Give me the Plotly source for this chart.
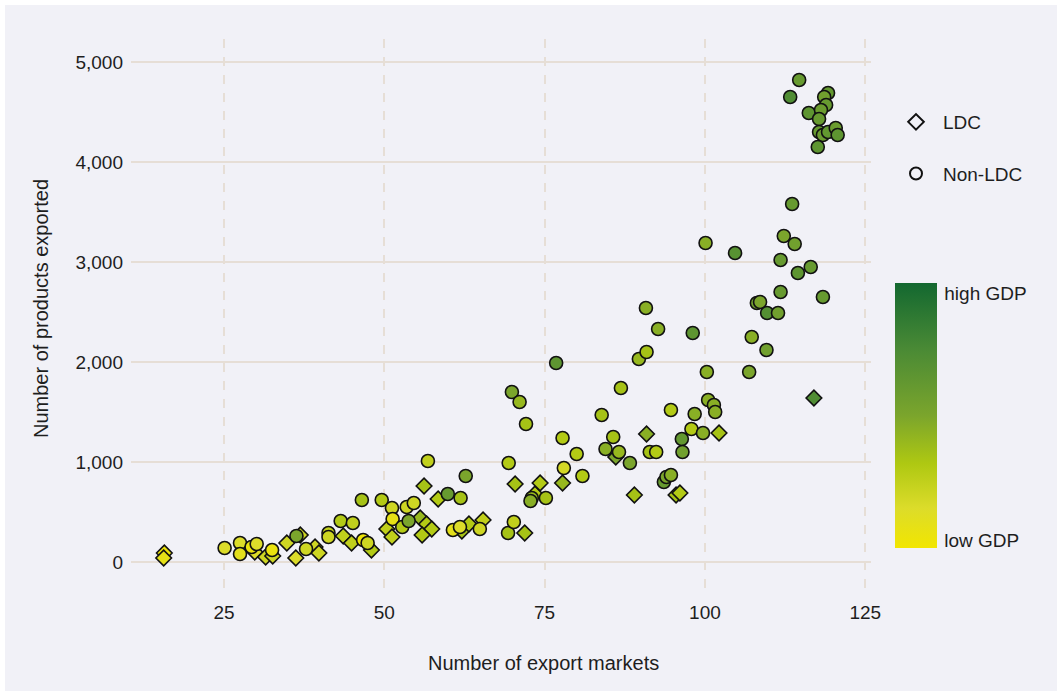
import plotly.graph_objects as go

# Least developed countries (diamonds)
ldc_markets = [15.7, 15.6, 29.8, 31.5, 32.6, 34.8, 36.9, 36.2, 39.2, 39.8,
               43.6, 44.9, 48.0, 50.4, 51.2, 55.6, 56.6, 57.4, 55.9, 56.2,
               58.4, 62.1, 63.2, 65.4, 70.4, 71.9, 73.5, 74.3, 77.8, 86.1,
               89.0, 90.9, 95.5, 96.1, 102.2, 117.0]
ldc_products = [90, 40, 100, 50, 60, 190, 270, 40, 150, 90,
                260, 190, 120, 330, 250, 440, 380, 330, 270, 760,
                630, 310, 380, 420, 780, 290, 680, 790, 790, 1050,
                670, 1280, 670, 690, 1290, 1640]
ldc_gdp = [0.04, 0.08, 0.15, 0.2, 0.2, 0.2, 0.2, 0.15, 0.2, 0.2,
           0.25, 0.25, 0.3, 0.25, 0.25, 0.4, 0.3, 0.3, 0.3, 0.35,
           0.3, 0.35, 0.3, 0.25, 0.35, 0.35, 0.3, 0.3, 0.4, 0.5,
           0.35, 0.45, 0.35, 0.3, 0.35, 0.72]

# Other countries (circles)
non_markets = [25.1, 27.5, 27.5, 29.3, 30.1, 32.5, 36.3, 37.8, 41.3, 41.3,
               43.2, 45.1, 46.5, 46.7, 47.4, 49.6, 51.2, 51.3, 52.8, 53.5,
               53.8, 54.6, 56.8, 59.9, 60.7, 61.8, 61.9, 62.7, 64.9, 69.3,
               69.4, 69.9, 70.2, 71.1, 72.1, 73.0, 72.8, 75.2, 76.8, 77.8,
               78.0, 80.0, 80.9, 83.9, 84.5, 85.7, 86.6, 86.9, 88.3, 89.7,
               90.8, 90.9, 91.4, 92.4, 92.7, 93.6, 94.0, 94.7, 94.7, 96.4,
               96.5, 97.9, 98.1, 98.4, 99.7, 100.1, 100.3, 100.5, 101.4, 101.6,
               104.7, 106.9, 107.3, 108.1, 108.6, 109.6, 109.7, 111.4, 111.8, 111.8,
               112.3, 113.6, 114.0, 114.5, 116.5, 118.4,
               114.7, 113.3, 119.2, 118.6, 118.9, 116.2, 118.1, 117.8, 117.8, 118.4,
               119.2, 120.4, 120.7, 117.6]
non_products = [140, 190, 80, 150, 180, 120, 260, 130, 290, 250,
                410, 390, 620, 220, 190, 620, 540, 430, 350, 550,
                410, 590, 1010, 680, 320, 350, 640, 860, 330, 290,
                990, 1700, 400, 1600, 1380, 640, 610, 640, 1990, 1240,
                940, 1080, 860, 1470, 1130, 1250, 1100, 1740, 990, 2030,
                2540, 2100, 1100, 1100, 2330, 800, 850, 870, 1520, 1230,
                1100, 1330, 2290, 1480, 1290, 3190, 1900, 1620, 1570, 1500,
                3090, 1900, 2250, 2590, 2600, 2120, 2490, 2490, 2700, 3020,
                3260, 3580, 3180, 2890, 2950, 2650,
                4820, 4650, 4690, 4650, 4570, 4490, 4520, 4430, 4300, 4270,
                4300, 4340, 4270, 4150]
non_gdp = [0.15, 0.15, 0.1, 0.05, 0.15, 0.05, 0.5, 0.2, 0.25, 0.2,
           0.3, 0.25, 0.35, 0.03, 0.2, 0.3, 0.2, 0.08, 0.3, 0.2,
           0.5, 0.2, 0.25, 0.6, 0.1, 0.15, 0.35, 0.5, 0.2, 0.35,
           0.3, 0.5, 0.25, 0.4, 0.35, 0.4, 0.45, 0.35, 0.65, 0.3,
           0.18, 0.3, 0.3, 0.35, 0.45, 0.35, 0.4, 0.35, 0.5, 0.4,
           0.45, 0.35, 0.35, 0.3, 0.45, 0.6, 0.5, 0.45, 0.3, 0.62,
           0.55, 0.3, 0.65, 0.45, 0.45, 0.45, 0.45, 0.45, 0.45, 0.45,
           0.68, 0.5, 0.45, 0.55, 0.5, 0.55, 0.7, 0.55, 0.6, 0.6,
           0.5, 0.6, 0.55, 0.65, 0.6, 0.6,
           0.6, 0.72, 0.62, 0.55, 0.6, 0.65, 0.58, 0.6, 0.6, 0.58,
           0.62, 0.58, 0.65, 0.65]

x_ticks = [25, 50, 75, 100, 125]
y_ticks = [0, 1000, 2000, 3000, 4000, 5000]
gdp_labels = ["low GDP", "high GDP"]

gdp_scale = [[0.0, "#f2e600"], [0.15, "#dcdc2a"], [0.32, "#aec812"],
             [0.5, "#7ba52c"], [0.75, "#4a8a35"], [1.0, "#136830"]]

FONT = "Liberation Sans, Arial, sans-serif"
TEXT = "#1e1e1e"
BG = "#f1f1f7"
GRID = "#e6ded6"

W, H = 1062, 696
L, R, T, B = 131, 191, 39, 106
PW, PH = W - L - R, H - T - B

fig = go.Figure()

# Data: both groups in one trace so the colour bar is shared
xs = ldc_markets + non_markets
ys = ldc_products + non_products
cs = ldc_gdp + non_gdp
symbols = ["diamond"] * len(ldc_markets) + ["circle"] * len(non_markets)
sizes = [12] * len(ldc_markets) + [13] * len(non_markets)

fig.add_trace(go.Scatter(
    x=xs, y=ys, mode="markers", showlegend=False, hoverinfo="x+y",
    marker=dict(
        symbol=symbols, size=sizes, color=cs, colorscale=gdp_scale,
        cmin=0, cmax=1, opacity=1, line=dict(color="#111111", width=1.6),
        colorbar=dict(
            x=(895 - L) / PW, xanchor="left", xpad=0,
            y=(T + PH - 548) / PH, yanchor="bottom", ypad=0,
            len=265, lenmode="pixels", thickness=42, thicknessmode="pixels",
            outlinewidth=0, ticks="outside", ticklen=4,
            tickcolor="rgba(0,0,0,0)",
            tickvals=[0.03, 0.96], ticktext=gdp_labels,
            tickfont=dict(family=FONT, size=19, color=TEXT),
        ),
    ),
))

# Legend entries
fig.add_trace(go.Scatter(
    x=[None], y=[None], mode="markers", name="LDC", legendgroup="ldc",
    marker=dict(symbol="diamond-open", size=12, color="#111111",
                line=dict(width=2)),
))
fig.add_trace(go.Scatter(
    x=[None], y=[None], mode="markers", name="Non-LDC", legendgroup="non",
    marker=dict(symbol="circle-open", size=13, color="#111111",
                line=dict(width=2)),
))

# Panel background inset from the page edge
fig.add_shape(
    type="rect", xref="paper", yref="paper", layer="below",
    x0=(5 - L) / PW, x1=(W - 5 - L) / PW,
    y0=-(H - 5 - T - PH) / PH, y1=(PH + T - 5) / PH,
    fillcolor=BG, line=dict(width=0),
)

# Axis titles
fig.add_annotation(
    text="Number of export markets", xref="paper", yref="paper",
    x=(543 - L) / PW, y=(T + PH - 663) / PH, xanchor="center", yanchor="middle",
    showarrow=False, font=dict(family=FONT, size=20, color=TEXT),
)
fig.add_annotation(
    text="Number of products exported", xref="paper", yref="paper",
    x=(41 - L) / PW, y=(T + PH - 309) / PH, xanchor="center", yanchor="middle",
    textangle=-90, showarrow=False, font=dict(family=FONT, size=20, color=TEXT),
)

fig.update_layout(
    width=W, height=H,
    margin=dict(l=L, r=R, t=T, b=B),
    paper_bgcolor="white", plot_bgcolor="rgba(0,0,0,0)",
    font=dict(family=FONT, size=19, color=TEXT),
    legend=dict(
        x=(889 - L) / PW, xanchor="left", y=(T + PH - 103) / PH, yanchor="top",
        bgcolor="rgba(0,0,0,0)", tracegroupgap=24, itemwidth=44,
        font=dict(family=FONT, size=19, color=TEXT),
        itemsizing="constant",
    ),
    xaxis=dict(
        range=[10.5, 125.9], tickvals=x_ticks, showline=False, zeroline=False,
        ticks="", showgrid=True, gridcolor=GRID, gridwidth=1.5, griddash="dash",
        tickfont=dict(size=19), ticklabelstandoff=9,
    ),
    yaxis=dict(
        range=[-280, 5230], tickvals=y_ticks, tickformat=",", showline=False,
        zeroline=False, ticks="", showgrid=True, gridcolor=GRID, gridwidth=1.5,
        tickfont=dict(size=19), ticklabelstandoff=7,
    ),
)

fig.write_html("out.html")
